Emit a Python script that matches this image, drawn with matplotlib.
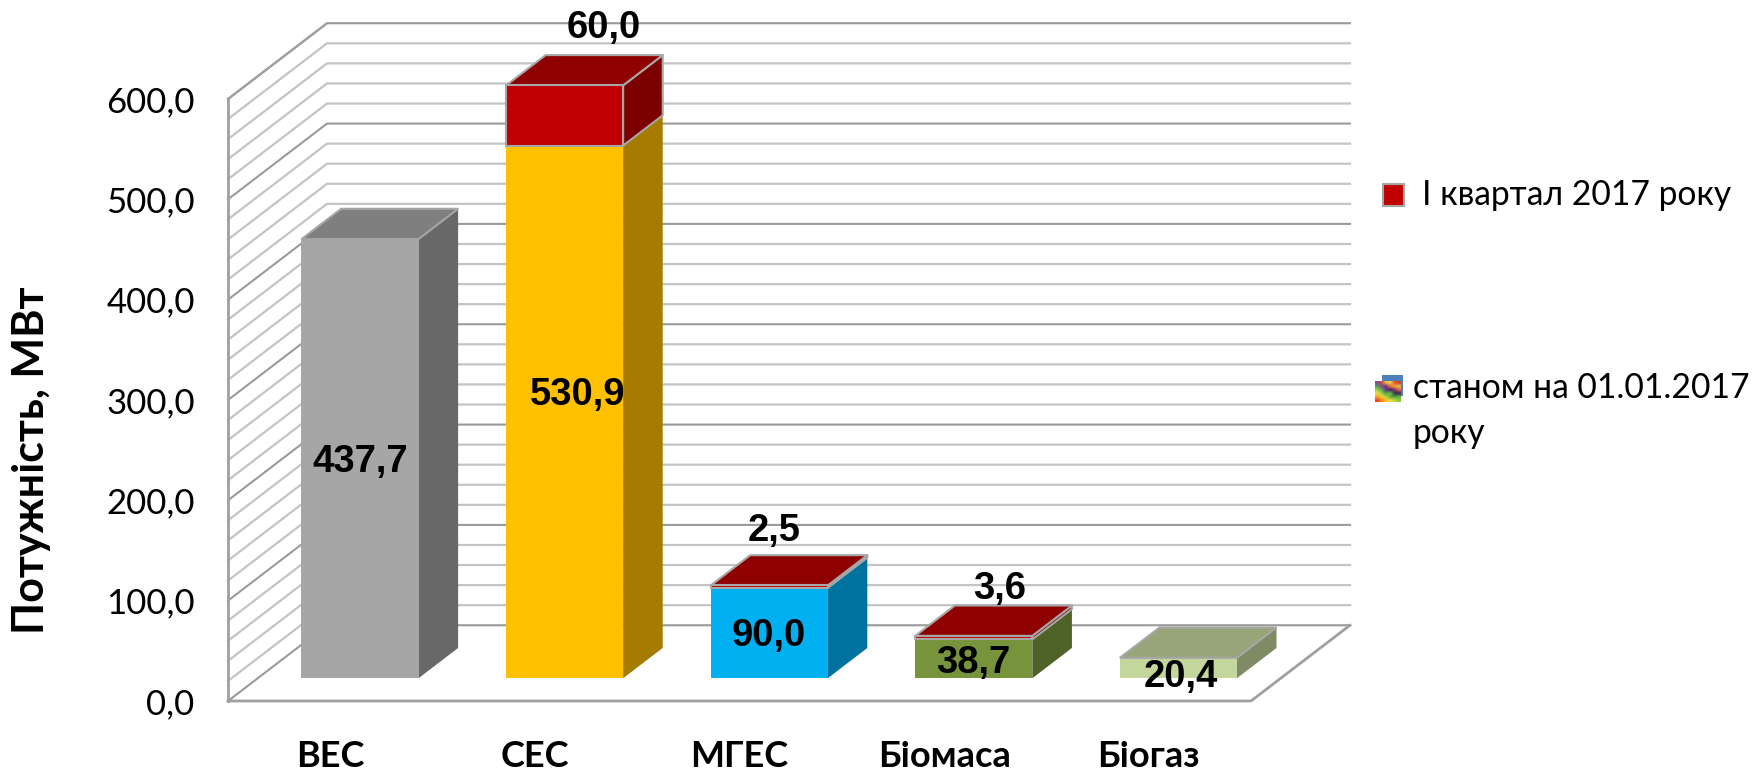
import matplotlib
matplotlib.use("Agg")
import matplotlib.pyplot as plt
from matplotlib.colors import to_rgb
from matplotlib.patches import Polygon, Rectangle

categories = ["ВЕС", "СЕС", "МГЕС", "Біомаса", "Біогаз"]
base_values = [437.7, 530.9, 90.0, 38.7, 20.4]
new_values = [0, 60.0, 2.5, 3.6, 0]
yticks = [0, 100, 200, 300, 400, 500, 600]
series_names = ["І квартал 2017 року", "станом на 01.01.2017\nроку"]
ylabel = "Потужність, МВт"

# front, side, top
base_colors = [
    ("#a6a6a6", "#686868", "#7f7f7f"),
    ("#ffc000", "#a67c00", "#c89800"),
    ("#00b0f0", "#0072a0", "#0090c8"),
    ("#77933c", "#4f6228", "#5f7a30"),
    ("#c3d69b", "#7f8b64", "#98a578"),
]
red_colors = ("#c00000", "#7c0000", "#8f0000")

W, H = 1752, 771
LEFT, RIGHT, FLOOR, TOP = 228, 1251, 701, 99  # front plane in pixels
WALL_DX, WALL_DY = 99 / 1023 * 5, 75.5        # oblique depth of the box, data units
BAR_WIDTH = 0.572
NEAR, FAR = 0.3, 0.7                          # bar depth inside the box

plt.rcParams["font.family"] = ["Lato", "DejaVu Sans"]

fig = plt.figure(figsize=(W / 100, H / 100), dpi=100)
ax = fig.add_axes([LEFT / W, 1 - FLOOR / H, (RIGHT - LEFT) / W, (FLOOR - TOP) / H])
ax.set_xlim(0, 5)
ax.set_ylim(0, 600)
ax.patch.set_visible(False)
for s in ax.spines.values():
    s.set_visible(False)


def wall(x, y, t):
    # data point pushed back t of the way into the box
    return x + WALL_DX * t, y + WALL_DY * t


def box(x0, x1, y0, y1, colors, edge=None):
    a = wall(x0, y0, NEAR)
    b = wall(x1, y0, NEAR)
    c = wall(x1, y1, NEAR)
    d = wall(x0, y1, NEAR)
    e = wall(x1, y0, FAR)
    f = wall(x1, y1, FAR)
    g = wall(x0, y1, FAR)
    lw = 1.5 if edge else 0
    ec = edge if edge else "none"
    kw = dict(clip_on=False, linewidth=lw, edgecolor=ec, joinstyle="round", zorder=3)
    ax.add_patch(Polygon([b, e, f, c], facecolor=colors[1], **kw))
    ax.add_patch(Polygon([d, c, f, g], facecolor=colors[2], **kw))
    ax.add_patch(Polygon([a, b, c, d], facecolor=colors[0], **kw))


# grid on the side and back walls
for v in range(0, 601, 20):
    major = v % 100 == 0
    col = "#9a9a9a" if major else "#c4c4c4"
    lw = 1.5 if major else 1.6
    p0 = wall(0, v, 0)
    p1 = wall(0, v, 1)
    p2 = wall(5, v, 1)
    ax.plot([p0[0], p1[0], p2[0]], [p0[1], p1[1], p2[1]], color=col, lw=lw, clip_on=False, zorder=1)

# frame: left wall edge, floor and top edge
frame = "#a0a0a0"
ax.plot([0, 0], [0, 600], color=frame, lw=2, clip_on=False, zorder=2)
ax.plot([0, wall(0, 600, 1)[0]], [600, wall(0, 600, 1)[1]], color=frame, lw=1.6, clip_on=False, zorder=2)
ax.plot([0, 5, wall(5, 0, 1)[0]], [0, 0, wall(5, 0, 1)[1]], color=frame, lw=2, clip_on=False, zorder=2)

for i in range(len(categories)):
    x0 = i + 0.5 - BAR_WIDTH / 2
    x1 = i + 0.5 + BAR_WIDTH / 2
    box(x0, x1, 0, base_values[i], base_colors[i], edge=None)
    top = base_values[i]
    if new_values[i] > 0:
        box(x0, x1, top, top + new_values[i], red_colors, edge="#a6a6a6")
    else:
        # grey outline only round the top face of the bars without a new part
        a = wall(x0, top, NEAR)
        b = wall(x1, top, NEAR)
        c = wall(x1, top, FAR)
        d = wall(x0, top, FAR)
        ax.add_patch(Polygon([a, b, c, d], facecolor=base_colors[i][2], edgecolor="#a6a6a6",
                             linewidth=1.5, clip_on=False, zorder=3))

ax.set_yticks(yticks)
ax.set_yticklabels([f"{v:.1f}".replace(".", ",") for v in yticks], fontsize=25, color="black")
ax.set_xticks([i + 0.5 for i in range(len(categories))])
ax.set_xticklabels(categories, fontsize=26, fontweight="bold", color="black")
ax.tick_params(axis="y", length=0, pad=24)
ax.tick_params(axis="x", length=0, pad=28)
ax.set_ylabel(ylabel, fontsize=31, fontweight="bold", va="center")
ax.yaxis.set_label_coords(-0.193, 0.40)


def px_text(x, y, s, **kw):
    fig.text(x / W, 1 - y / H, s, **kw)


# value labels, pixel placement as in the picture
base_label_pos = [(360, 462), (578, 395), (769, 636), (973, 663), (1181, 677)]
new_label_pos = [None, (604, 28), (774, 531), (1000, 589), None]
val_font = dict(family=["Liberation Sans"], fontweight="bold", fontsize=27.5, ha="center", va="center", zorder=5)
for i in range(len(categories)):
    px_text(*base_label_pos[i], f"{base_values[i]:.1f}".replace(".", ","), **val_font)
    if new_label_pos[i]:
        px_text(*new_label_pos[i], f"{new_values[i]:.1f}".replace(".", ","), **val_font)

# legend
fig.add_artist(Rectangle((1382.5 / W, 1 - 206 / H), 21 / W, 22 / H, transform=fig.transFigure,
                         facecolor="#c00000", edgecolor="#a6a6a6", linewidth=1.5))
px_text(1422, 195, series_names[0], fontsize=24.2, ha="left", va="center")

fig.add_artist(Rectangle((1382 / W, 1 - 396 / H), 21 / W, 21 / H, transform=fig.transFigure,
                         facecolor="#4f81bd", edgecolor="none"))
swatch = [
    ["#7b4fa0", "#c0503c", "#f0b040", "#f0d060", "#e06030", "#d04020"],
    ["#50a050", "#7b4fa0", "#703080", "#e07030", "#f0a030", "#e8c050"],
    ["#a0d040", "#60b050", "#6a3a90", "#402060", "#803080", "#e06030"],
    ["#f0e040", "#a0d040", "#50a050", "#70c040", "#304040", "#402060"],
    ["#f8a020", "#f0d030", "#c0d840", "#60b040", "#50a040", "#60b040"],
    ["#f04020", "#f08020", "#f8c020", "#f0e040", "#c0d840", "#90c840"],
]
sw = fig.add_axes([1375 / W, 1 - 402 / H, 26 / W, 21 / H])
sw.set_zorder(5)
sw.imshow([[to_rgb(c) for c in row] for row in swatch], aspect="auto", interpolation="bilinear")
sw.axis("off")
px_text(1413, 388, series_names[1].split("\n")[0], fontsize=24.2, ha="left", va="center")
px_text(1413, 433, series_names[1].split("\n")[1], fontsize=24.2, ha="left", va="center")

fig.savefig("out.png", dpi=100, facecolor="white")
